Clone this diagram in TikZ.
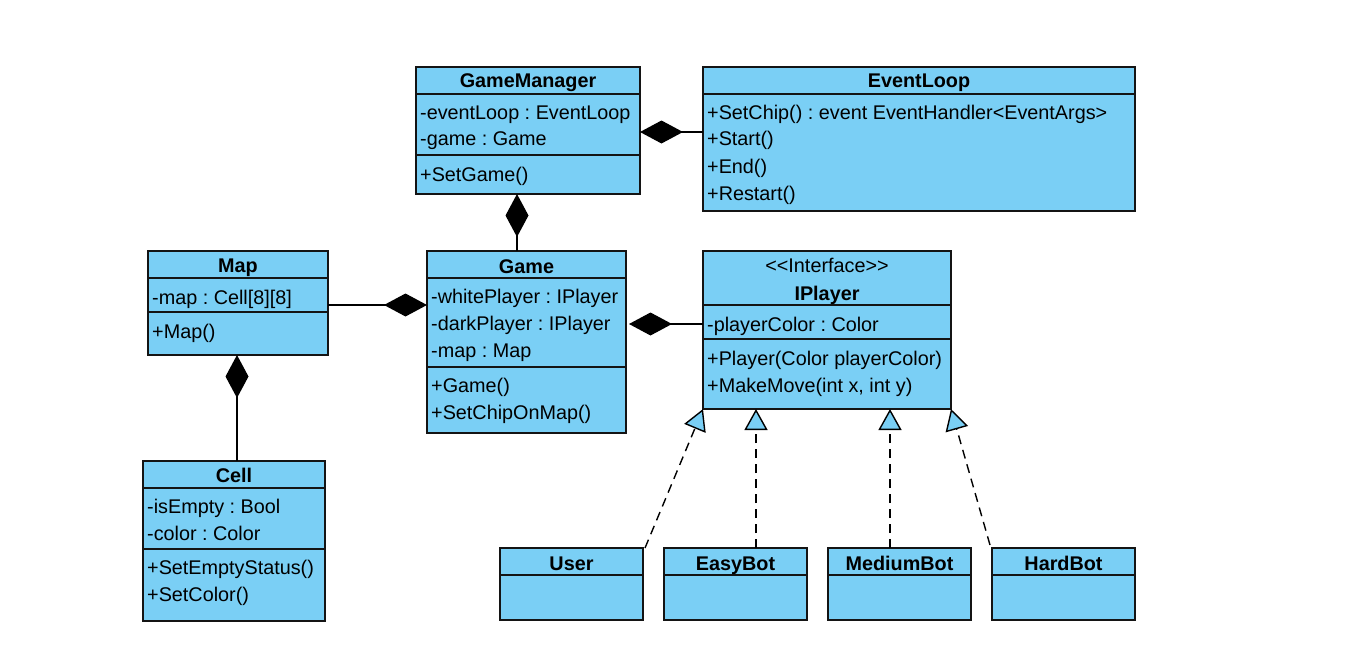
\documentclass[tikz,border=0pt]{standalone}
\usepackage{fontspec}
\setmainfont{Liberation Sans}
\usetikzlibrary{arrows.meta,calc}
\definecolor{umlfill}{RGB}{122,207,245}
\definecolor{umlline}{RGB}{20,20,20}
\frenchspacing
\begin{document}
\begin{tikzpicture}[x=1pt,y=-1pt,
 cls/.style={draw=umlline,fill=umlfill,line width=1.6pt,anchor=north west,inner sep=0pt,outer sep=0pt},
 sepline/.style={draw=umlline,line width=1.4pt},
 txt/.style={anchor=base west,inner sep=0pt,font=\fontsize{19.8}{22}\selectfont\frenchspacing},
 ttl/.style={anchor=base,inner sep=0pt,font=\fontsize{19.8}{22}\selectfont\bfseries},
 comp/.style={draw=black,line width=1.5pt,{Diamond[length=43pt,width=23pt,fill=black]}-},
 real/.style={draw=black,line width=1.4pt,dash pattern=on 9pt off 6pt,-{Triangle[length=21pt,width=23pt,fill=umlfill]}}]
\useasboundingbox (0,0) rectangle (1345,669);
% boxes
\node[cls,minimum width=224pt,minimum height=127pt] (gm) at (416,67) {};
\node[cls,minimum width=432pt,minimum height=144pt] (el) at (703,67) {};
\node[cls,minimum width=180pt,minimum height=104pt] (map) at (148,251) {};
\node[cls,minimum width=199pt,minimum height=182pt] (game) at (427,251) {};
\node[cls,minimum width=248pt,minimum height=158pt] (ip) at (703,251) {};
\node[cls,minimum width=182pt,minimum height=160pt] (cell) at (143,461) {};
\node[cls,minimum width=143pt,minimum height=72pt] (user) at (500,548) {};
\node[cls,minimum width=143pt,minimum height=72pt] (eb) at (664,548) {};
\node[cls,minimum width=143pt,minimum height=72pt] (mb) at (828,548) {};
\node[cls,minimum width=143pt,minimum height=72pt] (hb) at (992,548) {};
% compartment separators
\foreach \n/\d in {gm/27,gm/88,el/27,map/27,map/61,game/27,game/116,ip/54,ip/88,cell/27,cell/88,user/27,eb/27,mb/27,hb/27}
  \draw[sepline] ($(\n.north west)+(0,\d)$) -- ($(\n.north east)+(0,\d)$);
% GameManager
\node[ttl] (gmT) at ($(gm.north)+(0,21)$) {GameManager};
\node[txt] (gm1) at ($(gm.north west)+(4,52)$) {-eventLoop : EventLoop};
\node[txt] (gm2) at ($(gm.north west)+(4,79)$) {-game : Game};
\node[txt] (gm3) at ($(gm.north west)+(4,114)$) {+SetGame()};
% EventLoop
\node[ttl] (elT) at ($(el.north)+(0,21)$) {EventLoop};
\node[txt] (el1) at ($(el.north west)+(4,52)$) {+SetChip() : event EventHandler<EventArgs>};
\node[txt] (el2) at ($(el.north west)+(4,79)$) {+Start()};
\node[txt] (el3) at ($(el.north west)+(4,106)$) {+End()};
\node[txt] (el4) at ($(el.north west)+(4,133)$) {+Restart()};
% Map
\node[ttl] (mapT) at ($(map.north)+(0,21)$) {Map};
\node[txt] (map1) at ($(map.north west)+(4,53)$) {-map : Cell[8][8]};
\node[txt] (map2) at ($(map.north west)+(4,87)$) {+Map()};
% Game
\node[ttl] (gameT) at ($(game.north)+(0,22)$) {Game};
\node[txt] (game1) at ($(game.north west)+(4,52)$) {-whitePlayer : IPlayer};
\node[txt] (game2) at ($(game.north west)+(4,79)$) {-darkPlayer : IPlayer};
\node[txt] (game3) at ($(game.north west)+(4,106)$) {-map : Map};
\node[txt] (game4) at ($(game.north west)+(4,141)$) {+Game()};
\node[txt] (game5) at ($(game.north west)+(4,168)$) {+SetChipOnMap()};
% IPlayer
\node[anchor=base,inner sep=0pt,font=\fontsize{19.8}{22}\selectfont] (ipS) at ($(ip.north)+(0,21)$) {<{}<Interface>{}>};
\node[ttl] (ipT) at ($(ip.north)+(0,49)$) {IPlayer};
\node[txt] (ip1) at ($(ip.north west)+(4,80)$) {-playerColor : Color};
\node[txt] (ip2) at ($(ip.north west)+(4,114)$) {+Player(Color playerColor)};
\node[txt] (ip3) at ($(ip.north west)+(4,141)$) {+MakeMove(int x, int y)};
% Cell
\node[ttl] (cellT) at ($(cell.north)+(0,21)$) {Cell};
\node[txt] (cell1) at ($(cell.north west)+(4,52)$) {-isEmpty : Bool};
\node[txt] (cell2) at ($(cell.north west)+(4,79)$) {-color : Color};
\node[txt] (cell3) at ($(cell.north west)+(4,113)$) {+SetEmptyStatus()};
\node[txt] (cell4) at ($(cell.north west)+(4,140)$) {+SetColor()};
% bottom classes
\node[ttl] (userT) at ($(user.north)+(0,22)$) {User};
\node[ttl] (ebT) at ($(eb.north)+(0,22)$) {EasyBot};
\node[ttl] (mbT) at ($(mb.north)+(0,22)$) {MediumBot};
\node[ttl] (hbT) at ($(hb.north)+(0,22)$) {HardBot};
% compositions
\coordinate (c1) at ($(gm.north east)+(0,65)$);
\draw[comp] (c1) -- (c1 -| el.west);
\coordinate (c2) at ($(game.north west)+(90,0)$);
\draw[comp] (c2 |- gm.south) -- (c2);
\coordinate (c3) at ($(game.north west)+(0,54)$);
\draw[comp] (c3) -- (c3 -| map.east);
\coordinate (c4) at ($(cell.north west)+(94,0)$);
\draw[comp] (c4 |- map.south) -- (c4);
\coordinate (c5) at ($(ip.north west)+(0,73)$);
\coordinate (c5a) at ($(c5 -| game.east)+(3,0)$);
\draw[comp] (c5a) -- (c5);
% realizations
\draw[real] ($(user.north east)+(2,0)$) -- (ip.south west);
\coordinate (c6) at ($(eb.north west)+(92,0)$);
\draw[real] (c6) -- (c6 |- ip.south);
\coordinate (c7) at ($(mb.north west)+(62,0)$);
\draw[real] (c7) -- (c7 |- ip.south);
\draw[real] ($(hb.north west)+(-2,-3)$) -- (ip.south east);
\end{tikzpicture}
\end{document}
